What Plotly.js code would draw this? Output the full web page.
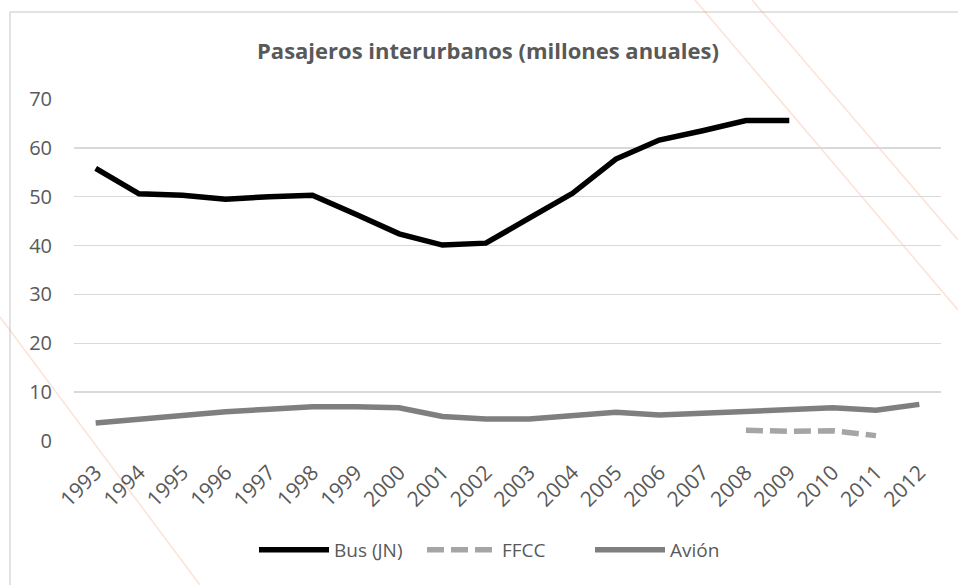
<!DOCTYPE html>
<html>
<head>
<meta charset="utf-8">
<script src="https://cdn.plot.ly/plotly-3.0.1.min.js"></script>
<style>html,body{margin:0;padding:0;background:#fff;}#chart{width:958px;height:585px;}</style>
</head>
<body>
<div id="chart"></div>
<script>
const years = ['1993','1994','1995','1996','1997','1998','1999','2000','2001','2002','2003','2004','2005','2006','2007','2008','2009','2010','2011','2012'];
const busJN = [55.8, 50.6, 50.3, 49.5, 50.0, 50.3, 46.4, 42.4, 40.1, 40.5, 45.6, 50.7, 57.7, 61.6, 63.5, 65.6, 65.6, null, null, null];
const ffcc  = [null, null, null, null, null, null, null, null, null, null, null, null, null, null, null, 2.2, 2.0, 2.1, 1.1, null];
const avion = [3.7, 4.5, 5.2, 6.0, 6.5, 7.0, 7.0, 6.8, 5.0, 4.5, 4.5, 5.2, 5.9, 5.3, 5.7, 5.9, 6.5, 6.8, 6.3, 7.5];
const seriesNames = ['Bus (JN)', 'FFCC', 'Avión'];
const yTicks = [0, 10, 20, 30, 40, 50, 60, 70];

const FONT = '"Open Sans", "Noto Sans", sans-serif';
const TXT = '#595959';

// plot area geometry (pixels) used to place decorative shapes in paper coords
const L = 74, T = 99, W = 867, H = 342;
const px = x => (x - L) / W;
const py = y => (T + H - y) / H;

const traces = [
  {x: years, y: busJN, name: seriesNames[0], type: 'scatter', mode: 'lines',
   line: {color: '#000000', width: 5.5}, connectgaps: false},
  {x: years, y: ffcc, name: seriesNames[1], type: 'scatter', mode: 'lines',
   line: {color: '#a5a5a5', width: 5.5, dash: '17px,7px'}, connectgaps: false},
  {x: years, y: avion, name: seriesNames[2], type: 'scatter', mode: 'lines',
   line: {color: '#7f7f7f', width: 5.5}}
];

const diag = (x0, y0, x1, y1) => ({type: 'line', xref: 'paper', yref: 'paper', layer: 'below',
  x0: px(x0), y0: py(y0), x1: px(x1), y1: py(y1),
  line: {color: 'rgba(244,150,110,0.28)', width: 1.5}});

const layout = {
  width: 958, height: 585,
  margin: {l: L, r: 958 - L - W, t: T, b: 585 - T - H, pad: 0},
  paper_bgcolor: '#ffffff', plot_bgcolor: 'rgba(0,0,0,0)',
  font: {family: FONT, color: TXT, size: 19},
  title: {text: '<b>Pasajeros interurbanos (millones anuales)</b>',
          font: {family: FONT, size: 22, color: TXT},
          x: 488 / 958, xanchor: 'center', xref: 'container',
          y: (585 - 51) / 585, yanchor: 'middle', yref: 'container'},
  xaxis: {type: 'category', categoryorder: 'array', categoryarray: years,
          range: [-0.5, years.length - 0.5], tickangle: -45, showgrid: false,
          zeroline: false, showline: false, ticks: '', ticklabelstandoff: 14,
          tickfont: {family: FONT, size: 21, color: TXT}, fixedrange: true},
  yaxis: {range: [0, 70], tickvals: yTicks, ticktext: yTicks.map(String),
          showgrid: true, gridcolor: '#d9d9d9', gridwidth: 1.5, zeroline: false,
          showline: false, ticks: '', ticklabelstandoff: 21,
          tickfont: {family: FONT, size: 20, color: TXT}, fixedrange: true},
  showlegend: true,
  legend: {orientation: 'h', x: px(506), xanchor: 'center', y: py(550), yanchor: 'middle',
           itemwidth: 70, entrywidth: 83, entrywidthmode: 'pixels',
           font: {family: FONT, size: 19, color: TXT}, bgcolor: 'rgba(0,0,0,0)',
           traceorder: 'normal'},
  shapes: [
    {type: 'rect', xref: 'paper', yref: 'paper', layer: 'below',
     x0: px(10), y0: py(12), x1: px(980), y1: py(620),
     line: {color: '#d9d9d9', width: 1.5}, fillcolor: 'rgba(0,0,0,0)'},
    diag(695, 0, 958, 310),
    diag(752, 0, 958, 240),
    diag(0, 317, 200, 585)
  ]
};

Plotly.newPlot('chart', traces, layout, {displayModeBar: false, staticPlot: true});
</script>
</body>
</html>
